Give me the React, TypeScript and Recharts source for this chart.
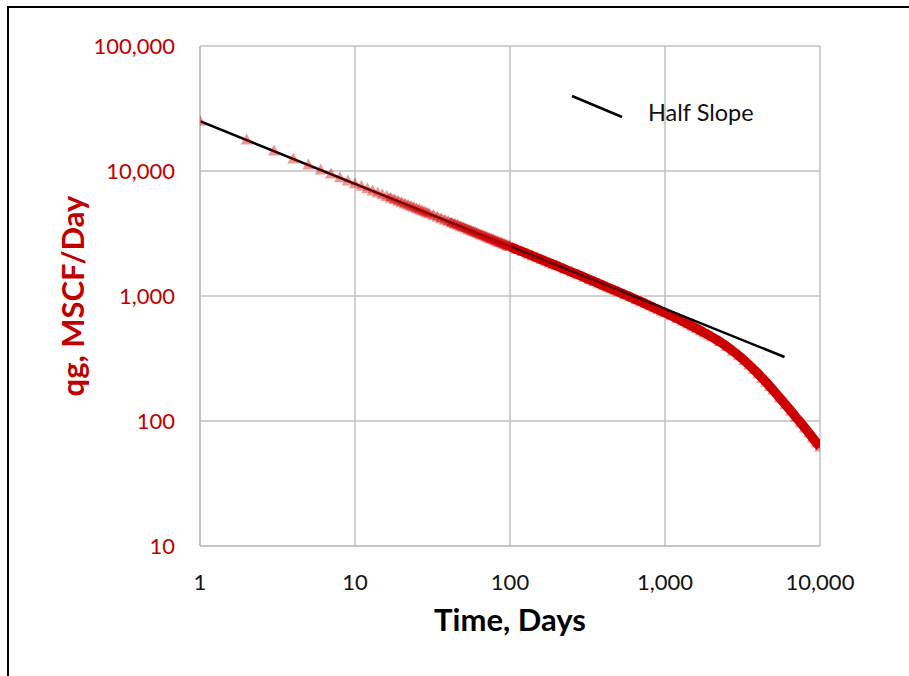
import {
  ComposedChart,
  Scatter,
  Line,
  XAxis,
  YAxis,
  ZAxis,
  CartesianGrid,
  Legend,
} from 'recharts';

// production history: time (days) vs gas rate (MSCF/day)
const days = [
  1, 2, 3, 4, 5, 6, 7, 8, 9, 10, 11, 12, 13, 14, 15, 16, 17, 18, 19, 20,
  21, 22, 23, 24, 25, 26, 27, 28, 29, 30,
  32, 34, 36, 38, 40, 42, 44, 46, 48, 50, 52, 54, 56, 58, 60, 62, 64, 66, 68, 70,
  72, 74, 76, 78, 80, 82, 84, 86, 88, 90, 92, 94, 96, 98, 100,
  110, 120, 130, 140, 150, 160, 170, 180, 190, 200,
  225, 250, 275, 300, 325, 350, 375, 400, 425, 450, 475, 500,
  550, 600, 650, 700, 750, 800, 850, 900, 950, 1000,
  1100, 1200, 1300, 1400, 1500, 1600, 1700, 1800, 1900, 2000,
  2250, 2500, 2750, 3000, 3250, 3500, 3750, 4000, 4250, 4500, 4750, 5000,
  5500, 6000, 6500, 7000, 7500, 8000, 8500, 9000, 9500, 10000,
];
const rates = [
  25000, 17680, 14430, 12500, 11180, 10200, 9450, 8840, 8330, 7905, 7535, 7215, 6930, 6680, 6450, 6245, 6055, 5885, 5730, 5580,
  5445, 5320, 5205, 5095, 4990, 4895, 4800, 4715, 4630, 4555,
  4410, 4275, 4155, 4045, 3940, 3845, 3755, 3675, 3595, 3525, 3455, 3390, 3330, 3270, 3215, 3160, 3110, 3065, 3015, 2975,
  2930, 2890, 2855, 2815, 2780, 2745, 2710, 2680, 2650, 2620, 2590, 2560, 2535, 2510, 2485,
  2365, 2265, 2175, 2090, 2020, 1955, 1895, 1840, 1790, 1745,
  1640, 1555, 1480, 1415, 1355, 1305, 1255, 1215, 1175, 1140, 1110, 1080,
  1025, 980, 935, 900, 865, 835, 805, 780, 755, 735,
  695, 660, 628, 599, 573, 549, 527, 507, 489, 472,
  432, 395, 362, 332, 305, 280, 258, 238, 220, 204, 189, 176,
  153, 135, 120, 107, 97, 88, 80, 73, 67, 62,
];

// half-slope reference line end points
const slopeDays = [1, 5900];
const slopeRates = [25000, 325];

const xTicks = [1, 10, 100, 1000, 10000];
const yTicks = [10, 100, 1000, 10000, 100000];

const production = days.map((t, i) => ({ t, q: rates[i] }));
const denseBand = production.filter((d) => d.t >= 100);
const lightBand = production.filter((d) => d.t >= 16 && d.t <= 110);
const midBand = production.filter((d) => d.t >= 40 && d.t <= 110);
const halfSlope = slopeDays.map((t, i) => ({ t, q: slopeRates[i] }));

const RED = '#cc0000';
const FONT = 'Lato, "Open Sans", sans-serif';
const fmt = (v: number) => v.toLocaleString('en-US');

// eslint-disable-next-line @typescript-eslint/no-explicit-any
function Triangle({ cx, cy }: any) {
  if (cx == null || cy == null) return null;
  return (
    <polygon
      points={`${cx},${cy - 6.5} ${cx - 6},${cy + 4.5} ${cx + 6},${cy + 4.5}`}
      fill={RED}
      fillOpacity={0.4}
    />
  );
}

// eslint-disable-next-line @typescript-eslint/no-explicit-any
function SlopeLegend({ payload }: any) {
  const item = payload?.find((p: { value: string }) => p.value === 'Half Slope');
  if (!item) return null;
  return (
    <svg width={210} height={40} style={{ display: 'block' }}>
      <line x1={2} y1={5} x2={52} y2={26} stroke="#000" strokeWidth={2.5} />
      <text x={78} y={30} fontFamily={FONT} fontSize={23.5} fill="#111">
        {item.value}
      </text>
    </svg>
  );
}

export default function App() {
  return (
    <div style={{ position: 'absolute', left: 0, top: 0, width: 909, height: 676, overflow: 'hidden', background: '#fff' }}>
      <div
        style={{
          position: 'absolute',
          left: 7,
          top: 6,
          width: 1200,
          height: 1000,
          borderLeft: '2px solid #000',
          borderTop: '2px solid #000',
        }}
      />
      <ComposedChart width={909} height={676} margin={{ top: 46, right: 89, bottom: 30, left: 40 }}>
        <CartesianGrid stroke="#c0c0c0" strokeWidth={1.5} />
        <XAxis
          dataKey="t"
          type="number"
          scale="log"
          domain={[1, 10000]}
          ticks={xTicks}
          allowDataOverflow
          tickFormatter={fmt}
          height={100}
          tickSize={0}
          tickMargin={28}
          axisLine={{ stroke: '#c0c0c0', strokeWidth: 1.5 }}
          tick={{ fontSize: 22, fill: '#111', fontFamily: FONT }}
          label={{
            value: 'Time, Days',
            position: 'insideBottom',
            offset: 15,
            style: { fontSize: 31, fontWeight: 700, fill: '#000', fontFamily: FONT },
          }}
        />
        <YAxis
          dataKey="q"
          type="number"
          scale="log"
          domain={[10, 100000]}
          ticks={yTicks}
          allowDataOverflow
          tickFormatter={fmt}
          width={160}
          tickSize={0}
          tickMargin={25}
          axisLine={{ stroke: '#c0c0c0', strokeWidth: 1.5 }}
          tick={{ fontSize: 22, fill: '#c00000', fontFamily: FONT }}
          label={{
            value: 'qg, MSCF/Day',
            angle: -90,
            position: 'insideLeft',
            offset: 33,
            style: { fontSize: 31, fontWeight: 700, fill: '#c00000', fontFamily: FONT, textAnchor: 'middle' },
          }}
        />
        <ZAxis range={[36, 36]} />
        <Legend
          verticalAlign="middle"
          align="center"
          layout="horizontal"
          content={<SlopeLegend />}
          wrapperStyle={{ position: 'absolute', left: 570, top: 91, width: 210, height: 40 }}
        />
        <Line
          data={lightBand}
          dataKey="q"
          name="band-light"
          legendType="none"
          stroke={RED}
          strokeOpacity={0.3}
          strokeWidth={8.5}
          dot={false}
          activeDot={false}
          isAnimationActive={false}
        />
        <Line
          data={midBand}
          dataKey="q"
          name="band-mid"
          legendType="none"
          stroke={RED}
          strokeOpacity={0.45}
          strokeWidth={9}
          dot={false}
          activeDot={false}
          isAnimationActive={false}
        />
        <Line
          data={denseBand}
          dataKey="q"
          name="band"
          legendType="none"
          stroke={RED}
          strokeWidth={9.5}
          dot={false}
          activeDot={false}
          isAnimationActive={false}
        />
        <Scatter
          data={production}
          dataKey="q"
          name="qg"
          legendType="none"
          fill={RED}
          shape={<Triangle />}
          isAnimationActive={false}
        />
        <Line
          data={halfSlope}
          dataKey="q"
          name="Half Slope"
          stroke="#000"
          strokeWidth={2.5}
          dot={false}
          activeDot={false}
          isAnimationActive={false}
        />
      </ComposedChart>
    </div>
  );
}
